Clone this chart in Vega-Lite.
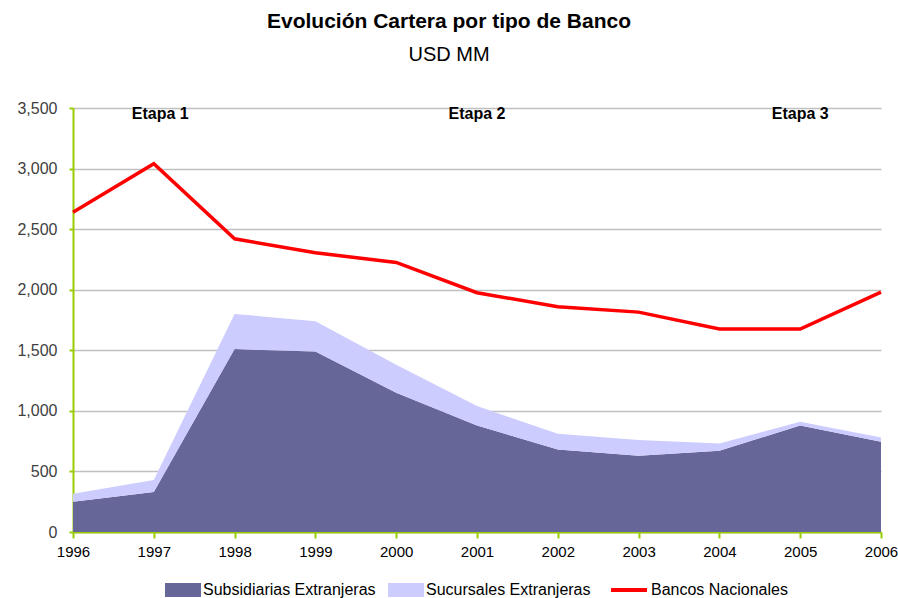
{
  "$schema": "https://vega.github.io/schema/vega-lite/v6.json",
  "width": 808,
  "height": 424,
  "autosize": {"type": "none"},
  "padding": {"left": 73, "top": 108, "right": 17, "bottom": 66},
  "background": "white",
  "title": {
    "text": "Evolución Cartera por tipo de Banco",
    "subtitle": "USD MM",
    "font": "Liberation Sans",
    "subtitleFont": "Liberation Sans",
    "fontSize": 21,
    "subtitleFontSize": 20,
    "fontWeight": "bold",
    "color": "black",
    "subtitleColor": "black",
    "anchor": "middle",
    "offset": 35,
    "dx": -28,
    "subtitlePadding": 13
  },
  "config": {
    "view": {"stroke": null},
    "font": "Liberation Sans"
  },
  "datasets": {
    "cartera": [
      {"year": 1996, "serie": "Subsidiarias Extranjeras", "value": 250},
      {"year": 1997, "serie": "Subsidiarias Extranjeras", "value": 330},
      {"year": 1998, "serie": "Subsidiarias Extranjeras", "value": 1510},
      {"year": 1999, "serie": "Subsidiarias Extranjeras", "value": 1490},
      {"year": 2000, "serie": "Subsidiarias Extranjeras", "value": 1150},
      {"year": 2001, "serie": "Subsidiarias Extranjeras", "value": 880},
      {"year": 2002, "serie": "Subsidiarias Extranjeras", "value": 680},
      {"year": 2003, "serie": "Subsidiarias Extranjeras", "value": 630},
      {"year": 2004, "serie": "Subsidiarias Extranjeras", "value": 670},
      {"year": 2005, "serie": "Subsidiarias Extranjeras", "value": 880},
      {"year": 2006, "serie": "Subsidiarias Extranjeras", "value": 745},
      {"year": 1996, "serie": "Sucursales Extranjeras", "value": 65},
      {"year": 1997, "serie": "Sucursales Extranjeras", "value": 100},
      {"year": 1998, "serie": "Sucursales Extranjeras", "value": 290},
      {"year": 1999, "serie": "Sucursales Extranjeras", "value": 250},
      {"year": 2000, "serie": "Sucursales Extranjeras", "value": 230},
      {"year": 2001, "serie": "Sucursales Extranjeras", "value": 160},
      {"year": 2002, "serie": "Sucursales Extranjeras", "value": 130},
      {"year": 2003, "serie": "Sucursales Extranjeras", "value": 130},
      {"year": 2004, "serie": "Sucursales Extranjeras", "value": 60},
      {"year": 2005, "serie": "Sucursales Extranjeras", "value": 30},
      {"year": 2006, "serie": "Sucursales Extranjeras", "value": 35},
      {"year": 1996, "serie": "Bancos Nacionales", "value": 2640},
      {"year": 1997, "serie": "Bancos Nacionales", "value": 3040},
      {"year": 1998, "serie": "Bancos Nacionales", "value": 2420},
      {"year": 1999, "serie": "Bancos Nacionales", "value": 2305},
      {"year": 2000, "serie": "Bancos Nacionales", "value": 2225},
      {"year": 2001, "serie": "Bancos Nacionales", "value": 1975},
      {"year": 2002, "serie": "Bancos Nacionales", "value": 1860},
      {"year": 2003, "serie": "Bancos Nacionales", "value": 1815},
      {"year": 2004, "serie": "Bancos Nacionales", "value": 1675},
      {"year": 2005, "serie": "Bancos Nacionales", "value": 1675},
      {"year": 2006, "serie": "Bancos Nacionales", "value": 1980}
    ],
    "etapas": [
      {"year": 1997.08, "value": 3450, "label": "Etapa 1"},
      {"year": 2001, "value": 3450, "label": "Etapa 2"},
      {"year": 2005, "value": 3450, "label": "Etapa 3"}
    ]
  },
  "resolve": {"scale": {"fill": "independent", "stroke": "independent"}, "legend": {"fill": "independent", "stroke": "independent"}},
  "layer": [
    {
      "data": {"name": "cartera"},
      "transform": [{"filter": "datum.serie !== 'Bancos Nacionales'"}],
      "mark": {"type": "area", "opacity": 1},
      "encoding": {
        "x": {
          "field": "year",
          "type": "quantitative",
          "scale": {"domain": [1996, 2006], "nice": false, "zero": false},
          "axis": {
            "title": null,
            "values": [1996, 1997, 1998, 1999, 2000, 2001, 2002, 2003, 2004, 2005, 2006],
            "format": "d",
            "grid": false,
            "domainColor": "#99CC00",
            "domainWidth": 2,
            "tickColor": "#99CC00",
            "tickWidth": 2,
            "tickSize": 6,
            "labelFontSize": 15,
            "labelColor": "black",
            "labelPadding": 6,
            "labelFont": "Liberation Sans",
            "labelFlush": false
          }
        },
        "y": {
          "field": "value",
          "type": "quantitative",
          "stack": "zero",
          "scale": {"domain": [0, 3500], "nice": false},
          "axis": {
            "title": null,
            "values": [0, 500, 1000, 1500, 2000, 2500, 3000, 3500],
            "format": ",d",
            "grid": true,
            "gridColor": "#C0C0C0",
            "gridWidth": 1.5,
            "domainColor": "#99CC00",
            "domainWidth": 2,
            "tickColor": "#99CC00",
            "tickWidth": 2,
            "tickSize": 4,
            "labelFontSize": 16,
            "labelColor": "#404040",
            "labelPadding": 12,
            "labelFont": "Liberation Sans"
          }
        },
        "fill": {
          "field": "serie",
          "type": "nominal",
          "scale": {
            "domain": ["Subsidiarias Extranjeras", "Sucursales Extranjeras"],
            "range": ["#666699", "#CCCCFF"]
          },
          "legend": {
            "title": null,
            "orient": "none",
            "direction": "horizontal",
            "legendX": 92,
            "legendY": 464,
            "symbolType": "M-1,-0.39H1V0.39H-1Z",
            "symbolSize": 1296,
            "symbolStrokeWidth": 0,
            "symbolOpacity": 1,
            "labelFontSize": 16,
            "labelColor": "black",
            "labelFont": "Liberation Sans",
            "labelOffset": 2,
            "columnPadding": 12,
            "labelLimit": 300
          }
        },
        "order": {"field": "serie", "sort": "ascending"}
      }
    },
    {
      "data": {"name": "cartera"},
      "transform": [{"filter": "datum.serie === 'Bancos Nacionales'"}],
      "mark": {"type": "line", "strokeWidth": 3.5},
      "encoding": {
        "x": {"field": "year", "type": "quantitative"},
        "y": {"field": "value", "type": "quantitative"},
        "stroke": {
          "field": "serie",
          "type": "nominal",
          "scale": {"domain": ["Bancos Nacionales"], "range": ["#FF0000"]},
          "legend": {
            "title": null,
            "orient": "none",
            "direction": "horizontal",
            "legendX": 536,
            "legendY": 462,
            "symbolType": "M-1,0H1",
            "symbolSize": 1296,
            "symbolStrokeWidth": 4,
            "labelFontSize": 16,
            "labelColor": "black",
            "labelFont": "Liberation Sans",
            "labelOffset": 2,
            "labelLimit": 300
          }
        }
      }
    },
    {
      "data": {"name": "etapas"},
      "mark": {"type": "text", "font": "Liberation Sans", "fontSize": 16, "fontWeight": "bold", "color": "black", "baseline": "middle", "align": "center"},
      "encoding": {
        "x": {"field": "year", "type": "quantitative"},
        "y": {"field": "value", "type": "quantitative"},
        "text": {"field": "label"}
      }
    }
  ]
}
